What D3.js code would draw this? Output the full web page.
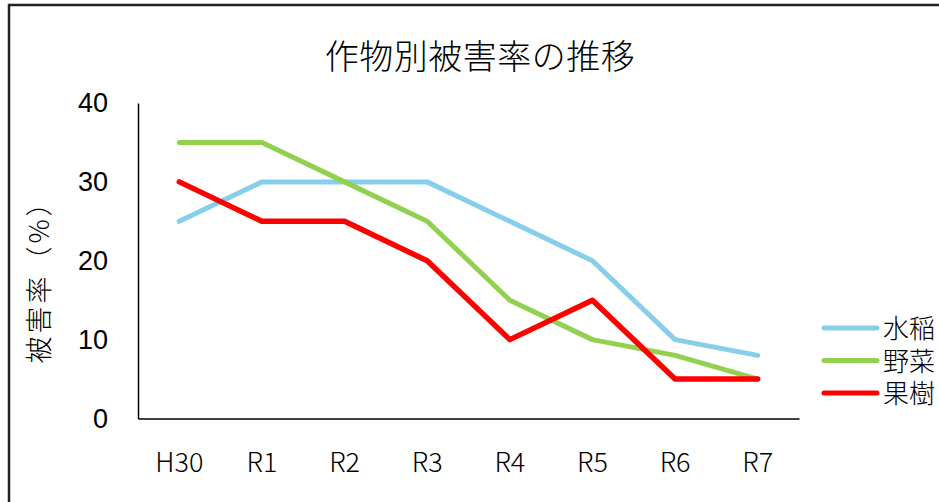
<!DOCTYPE html>
<html>
<head>
<meta charset="utf-8">
<script src="https://cdn.jsdelivr.net/npm/d3@7"></script>
<style>
  body { margin: 0; background: #fff; }
  svg { display: block; }
  .tick text { fill: #000; }
</style>
</head>
<body>
<div class="chart"></div>
<script>
// Data
var years = ["H30", "R1", "R2", "R3", "R4", "R5", "R6", "R7"];
var seriesNames = ["水稲", "野菜", "果樹"];
var seriesColors = ["#87CEEB", "#92D050", "#FF0000"];
var suito = [25, 30, 30, 30, 25, 20, 10, 8];
var yasai = [35, 35, 30, 25, 15, 10, 8, 5];
var kaju = [30, 25, 25, 20, 10, 15, 5, 5];
var yTicks = [0, 10, 20, 30, 40];

var svgWidth = 939;
var svgHeight = 502;
var margin = { top: 103, left: 138 };
var width = 661;
var height = 315.5;

var jp = "'Noto Sans CJK JP', 'Noto Sans', sans-serif";

var svg = d3.select(".chart")
  .append("svg")
  .attr("width", svgWidth)
  .attr("height", svgHeight);

// outer frame (runs past right and bottom edges)
svg.append("rect")
  .attr("x", 9)
  .attr("y", 5)
  .attr("width", 960)
  .attr("height", 520)
  .attr("fill", "none")
  .attr("stroke", "#222")
  .attr("stroke-width", 2.5);

// title
svg.append("text")
  .attr("x", 480)
  .attr("y", 69)
  .attr("text-anchor", "middle")
  .style("font-family", jp)
  .style("font-weight", 300)
  .style("font-size", "34px")
  .style("letter-spacing", "0.5px")
  .text("作物別被害率の推移");

var chartGroup = svg.append("g")
  .attr("transform", `translate(${margin.left}, ${margin.top})`);

var xScale = d3.scaleBand()
  .domain(years)
  .range([0, width]);

var yScale = d3.scaleLinear()
  .domain([0, 40])
  .range([height, 0]);

// axes
var bottomAxis = d3.axisBottom(xScale).tickSize(0).tickPadding(34);
var leftAxis = d3.axisLeft(yScale).tickValues(yTicks).tickSize(0).tickPadding(30);

var xAxisG = chartGroup.append("g")
  .attr("transform", `translate(0, ${height})`)
  .call(bottomAxis);
xAxisG.select(".domain").attr("stroke", "#000").attr("stroke-width", 1.5);
xAxisG.selectAll("text")
  .style("font-family", jp)
  .style("font-weight", 300)
  .style("font-size", "27px");

var yAxisG = chartGroup.append("g")
  .call(leftAxis);
yAxisG.select(".domain").attr("stroke", "#000").attr("stroke-width", 1.5);
yAxisG.selectAll("text")
  .style("font-family", "'Liberation Sans', Arial, sans-serif")
  .style("font-size", "27px");

// y axis title
svg.append("text")
  .attr("transform", "translate(49, 275) rotate(-90)")
  .attr("text-anchor", "middle")
  .style("font-family", jp)
  .style("font-weight", 300)
  .style("font-size", "27px")
  .style("letter-spacing", "3px")
  .text("被害率（%）");

// lines
var lineGen = d3.line()
  .x(function(d, i) { return xScale(years[i]) + xScale.bandwidth() / 2; })
  .y(function(d) { return yScale(d); });

var allSeries = [suito, yasai, kaju];
allSeries.forEach(function(values, k) {
  chartGroup.append("path")
    .datum(values)
    .attr("d", lineGen)
    .attr("fill", "none")
    .attr("stroke", seriesColors[k])
    .attr("stroke-width", k === 2 ? 5.5 : 5)
    .attr("stroke-linecap", "round")
    .attr("stroke-linejoin", "round");
});

// legend
var legend = svg.append("g")
  .attr("transform", "translate(824, 328)");

seriesNames.forEach(function(name, k) {
  var row = legend.append("g")
    .attr("transform", `translate(0, ${k * 32.5})`);
  row.append("line")
    .attr("x1", 0)
    .attr("x2", 53)
    .attr("y1", 0)
    .attr("y2", 0)
    .attr("stroke", seriesColors[k])
    .attr("stroke-width", 5)
    .attr("stroke-linecap", "round");
  row.append("text")
    .attr("x", 59)
    .attr("y", 10)
    .style("font-family", jp)
    .style("font-weight", 300)
    .style("font-size", "26px")
    .text(name);
});
</script>
</body>
</html>
